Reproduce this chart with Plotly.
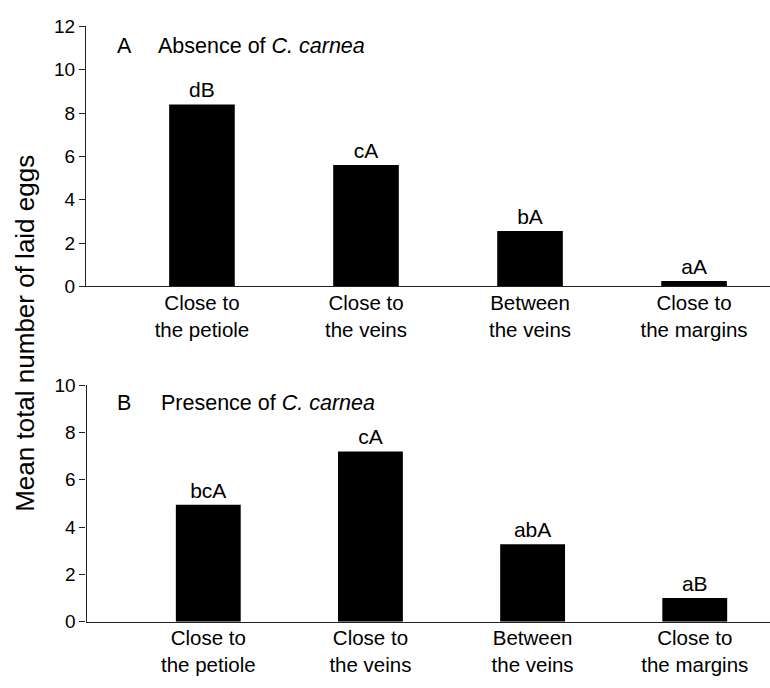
import plotly.graph_objects as go

# Leaf regions where eggs were laid
categories = ["Close to<br>the petiole", "Close to<br>the veins",
              "Between<br>the veins", "Close to<br>the margins"]

# Mean total number of laid eggs per region
absence_values = [8.4, 5.6, 2.55, 0.25]
presence_values = [4.95, 7.2, 3.28, 1.0]

# Significance letters shown above each bar
absence_letters = ["dB", "cA", "bA", "aA"]
presence_letters = ["bcA", "cA", "abA", "aB"]

FONT = "Liberation Sans, Arial, Helvetica, sans-serif"
W, H = 770, 688

fig = go.Figure()

fig.add_trace(go.Bar(
    x=categories, y=absence_values, text=absence_letters,
    textposition="outside", cliponaxis=False, width=0.40,
    marker=dict(color="black", line=dict(width=0)),
    textfont=dict(family=FONT, size=21, color="black"),
    xaxis="x", yaxis="y", showlegend=False,
))
fig.add_trace(go.Bar(
    x=categories, y=presence_values, text=presence_letters,
    textposition="outside", cliponaxis=False, width=0.40,
    marker=dict(color="black", line=dict(width=0)),
    textfont=dict(family=FONT, size=21, color="black"),
    xaxis="x2", yaxis="y2", showlegend=False,
))

axis_line = dict(showline=True, linecolor="#222", linewidth=1.3,
                 showgrid=False, zeroline=False)
tickfont = dict(family=FONT, size=19, color="black")
catfont = dict(family=FONT, size=20.5, color="black")

fig.update_layout(
    width=W, height=H,
    margin=dict(l=0, r=0, t=0, b=0),
    paper_bgcolor="white", plot_bgcolor="white",
    bargap=0.6,
    uniformtext=dict(mode=False),
    xaxis=dict(domain=[86 / W, 1], anchor="y", type="category",
               range=[-0.707, 3.463], ticks="", tickfont=catfont,
               ticklabelstandoff=-2, **axis_line),
    yaxis=dict(domain=[(H - 285) / H, (H - 17) / H], anchor="x",
               range=[0, 12], tickvals=[0, 2, 4, 6, 8, 10, 12],
               ticks="outside", ticklen=6, tickcolor="#222",
               tickfont=tickfont, **axis_line),
    xaxis2=dict(domain=[86.5 / W, 1], anchor="y2", type="category",
                range=[-0.751, 3.464], ticks="", tickfont=catfont,
                ticklabelstandoff=-2, **axis_line),
    yaxis2=dict(domain=[(H - 631) / H, (H - 387) / H], anchor="x2",
                range=[0, 10], tickvals=[0, 2, 4, 6, 8, 10],
                ticks="outside", ticklen=6, tickcolor="#222",
                tickfont=tickfont, **axis_line),
)

annotations = [
    dict(text="A", x=115 / W, y=(H - 37) / H, xanchor="left"),
    dict(text="Absence of <i>C. carnea</i>", x=156 / W, y=(H - 37) / H,
         xanchor="left"),
    dict(text="B", x=115 / W, y=(H - 405) / H, xanchor="left"),
    dict(text="Presence of <i>C. carnea</i>", x=159 / W, y=(H - 405) / H,
         xanchor="left"),
]
for a in annotations:
    fig.add_annotation(xref="paper", yref="paper", showarrow=False,
                       yanchor="middle",
                       font=dict(family=FONT, size=21.5, color="black"), **a)

fig.add_annotation(text="Mean total number of laid eggs", xref="paper",
                   yref="paper", x=25 / W, y=(H - 334) / H, textangle=-90,
                   showarrow=False, xanchor="center", yanchor="middle",
                   font=dict(family=FONT, size=26, color="black"))

fig.write_html("out.html")
